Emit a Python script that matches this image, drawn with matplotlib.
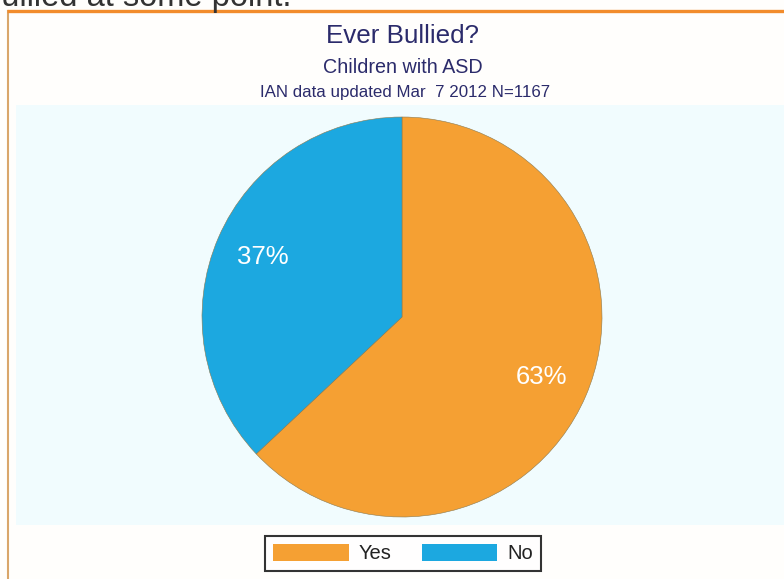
import matplotlib
matplotlib.use("Agg")
import matplotlib.pyplot as plt
from matplotlib.patches import Rectangle

# data
labels = ["Yes", "No"]
values = [63, 37]
colors = ["#F5A033", "#1CA8E0"]

title = "Ever Bullied?"
subtitle = "Children with ASD"
note = "IAN data updated Mar  7 2012 N=1167"
page_text = "bullied at some point."

plt.rcParams['font.family'] = ['Liberation Sans', 'DejaVu Sans']

W, H = 784, 579
fig = plt.figure(figsize=(W / 100, H / 100), dpi=100)
fig.patch.set_facecolor("#fffefc")

# background layer in pixel units (frame, plot area)
bg = fig.add_axes([0, 0, 1, 1])
bg.set_xlim(0, W)
bg.set_ylim(H, 0)
bg.axis("off")
bg.add_patch(Rectangle((16, 105), W, 420, facecolor="#f1fcfe", edgecolor="none"))
bg.plot([8.5, 8.5], [11, H + 5], color="#D9A66A", lw=1.5)
bg.plot([7.5, W + 5], [10.5, 10.5], color="#F28C2C", lw=2.4,
        solid_capstyle="butt")

bg.text(292, 6, page_text, ha="right", va="baseline", fontsize=23.5, color="#333333")
bg.text(403, 43, title, ha="center", va="baseline", fontsize=18.7, color="#2b2b6b")
bg.text(403, 73, subtitle, ha="center", va="baseline", fontsize=14.2, color="#2b2b6b")
bg.text(405, 97, note, ha="center", va="baseline", fontsize=12.2, color="#2b2b6b")

# pie
cx, cy, r = 402, 317, 200
ax = fig.add_axes([(cx - r) / W, (H - cy - r) / H, 2 * r / W, 2 * r / H])
ax.set_aspect("equal")
wedges, texts, autotexts = ax.pie(
    values, colors=colors, startangle=90, counterclock=False,
    autopct="%d%%", pctdistance=0.76,
    wedgeprops=dict(edgecolor="#8a7a50", linewidth=0.4),
    textprops=dict(color="white", fontsize=18.5))
ax.set_xlim(-1, 1)
ax.set_ylim(-1, 1)

leg = fig.legend(wedges, labels, loc="center", bbox_to_anchor=(403 / W, 1 - 553.5 / H),
                 ncol=2, fontsize=14.5, frameon=True, fancybox=False,
                 handlelength=3.75, handleheight=0.95, handletextpad=0.5,
                 columnspacing=1.5, borderpad=0.4, edgecolor="black")
leg.get_frame().set_linewidth(1.5)
leg.get_frame().set_facecolor("white")
for h in leg.legend_handles:
    h.set_edgecolor("none")
for t in leg.get_texts():
    t.set_color("#222222")

fig.savefig("out.png", dpi=100, facecolor=fig.get_facecolor())
